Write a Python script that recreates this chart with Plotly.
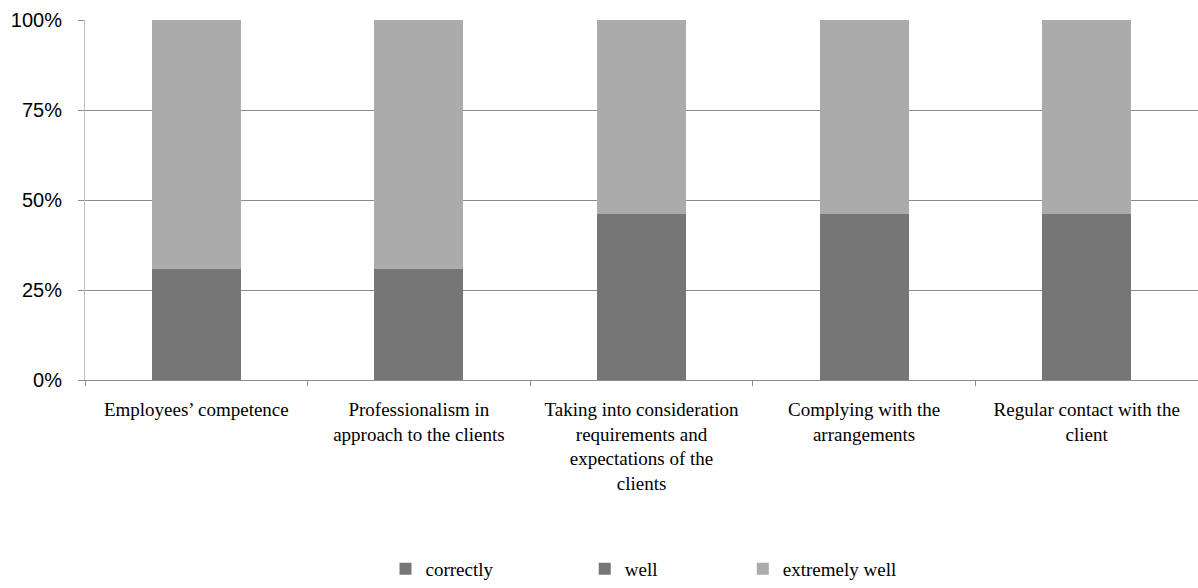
import plotly.graph_objects as go

categories = [
    "Employees’ competence",
    "Professionalism in<br>approach to the clients",
    "Taking into consideration<br>requirements and<br>expectations of the<br>clients",
    "Complying with the<br>arrangements",
    "Regular contact with the<br>client",
]
correctly = [0.0, 0.0, 0.0, 0.0, 0.0]
well = [30.8, 30.8, 46.2, 46.2, 46.2]
extremely_well = [69.2, 69.2, 53.8, 53.8, 53.8]

y_ticks = [0, 25, 50, 75, 100]
y_tick_labels = ["0%", "25%", "50%", "75%", "100%"]

series = [
    ("correctly", correctly, "#767676", "legend", 0.27),
    ("well", well, "#767676", "legend2", 0.449),
    ("extremely well", extremely_well, "#ababab", "legend3", 0.591),
]

fig = go.Figure()
for name, vals, color, lg, _ in series:
    fig.add_trace(go.Bar(
        x=categories, y=vals, name=name, marker_color=color,
        marker_line_width=0, legend=lg, width=0.4, showlegend=True,
    ))

legend_font = dict(family="Liberation Serif", size=19, color="#000")
legend_common = dict(orientation="h", y=-0.525, yanchor="middle", xanchor="left",
                     font=legend_font, bgcolor="rgba(0,0,0,0)", itemwidth=30)

fig.update_layout(
    barmode="stack",
    showlegend=True,
    width=1198, height=588,
    margin=dict(l=85, r=0, t=20, b=208),
    paper_bgcolor="white", plot_bgcolor="white",
    legend=dict(x=series[0][4], **legend_common),
    legend2=dict(x=series[1][4], **legend_common),
    legend3=dict(x=series[2][4], **legend_common),
    xaxis=dict(
        tickfont=dict(family="Liberation Serif", size=19, color="#000"),
        showline=True, linecolor="#8c8c8c", linewidth=1,
        ticks="outside", tickson="boundaries", ticklen=5, tickcolor="#8c8c8c",
        ticklabelstandoff=12,
        showgrid=False,
    ),
    yaxis=dict(
        range=[0, 100], tickvals=y_ticks, ticktext=y_tick_labels,
        tickfont=dict(family="Liberation Sans", size=20, color="#000"),
        showgrid=True, gridcolor="#8c8c8c", gridwidth=1,
        showline=True, linecolor="#c0c0c0", linewidth=1,
        ticks="outside", ticklen=6, tickcolor="#8c8c8c",
        ticklabelstandoff=12,
        zeroline=False,
    ),
)

fig.write_html("out.html")
